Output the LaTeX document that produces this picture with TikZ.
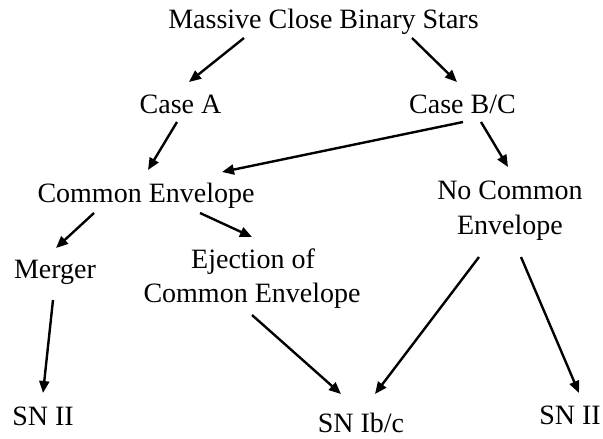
\documentclass[tikz,border=0pt]{standalone}
\usepackage{fontspec}
\setmainfont{Liberation Serif}
\usetikzlibrary{arrows.meta}
\begin{document}
\begin{tikzpicture}[x=1pt,y=-1pt,
  lbl/.style={inner sep=0pt,anchor=base,font=\fontsize{28}{34}\selectfont},
  arr/.style={line width=2.4pt,-{Triangle[length=12pt,width=10pt]}}]
\useasboundingbox (0,0) rectangle (603,439);
\node[lbl] (title) at (323.5,28) {Massive Close Binary Stars};
\node[lbl] (caseA) at (180.5,113) {Case A};
\node[lbl] (caseBC) at (462.5,113) {Case B/C};
\node[lbl] (ce) at (146,202) {Common Envelope};
\node[lbl] (nce) at (510,199) {No Common};
\node[lbl] (nceb) at (510,234) {Envelope};
\node[lbl] (merger) at (55,278) {Merger};
\node[lbl] (ej) at (253,268) {Ejection of};
\node[lbl] (ejb) at (252,302) {Common Envelope};
\node[lbl] (sn1) at (43,425) {SN II};
\node[lbl] (snib) at (361,432) {SN Ib/c};
\node[lbl] (sn2) at (570,424) {SN II};
\draw[arr] ([shift={(-79.5,10)}]title.base) -- ([shift={(8.5,-31)}]caseA.base);
\draw[arr] ([shift={(88.5,10)}]title.base) -- ([shift={(-5.5,-31)}]caseBC.base);
\draw[arr] ([shift={(-3.5,9)}]caseA.base) -- ([shift={(2,-32)}]ce.base);
\draw[arr] ([shift={(0.5,9)}]caseBC.base) -- ([shift={(76,-30)}]ce.base);
\draw[arr] ([shift={(18.5,9)}]caseBC.base) -- ([shift={(-2,-32)}]nce.base);
\draw[arr] ([shift={(-52,11)}]ce.base) -- ([shift={(1,-30)}]merger.base);
\draw[arr] ([shift={(54,11)}]ce.base) -- ([shift={(-1,-31)}]ej.base);
\draw[arr] ([shift={(-2,22)}]merger.base) -- ([shift={(0,-32)}]sn1.base);
\draw[arr] ([shift={(0,13)}]ejb.base) -- ([shift={(-20,-38)}]snib.base);
\draw[arr] ([shift={(-31,23)}]nceb.base) -- ([shift={(14,-38)}]snib.base);
\draw[arr] ([shift={(11,23)}]nceb.base) -- ([shift={(9,-31)}]sn2.base);
\end{tikzpicture}
\end{document}
